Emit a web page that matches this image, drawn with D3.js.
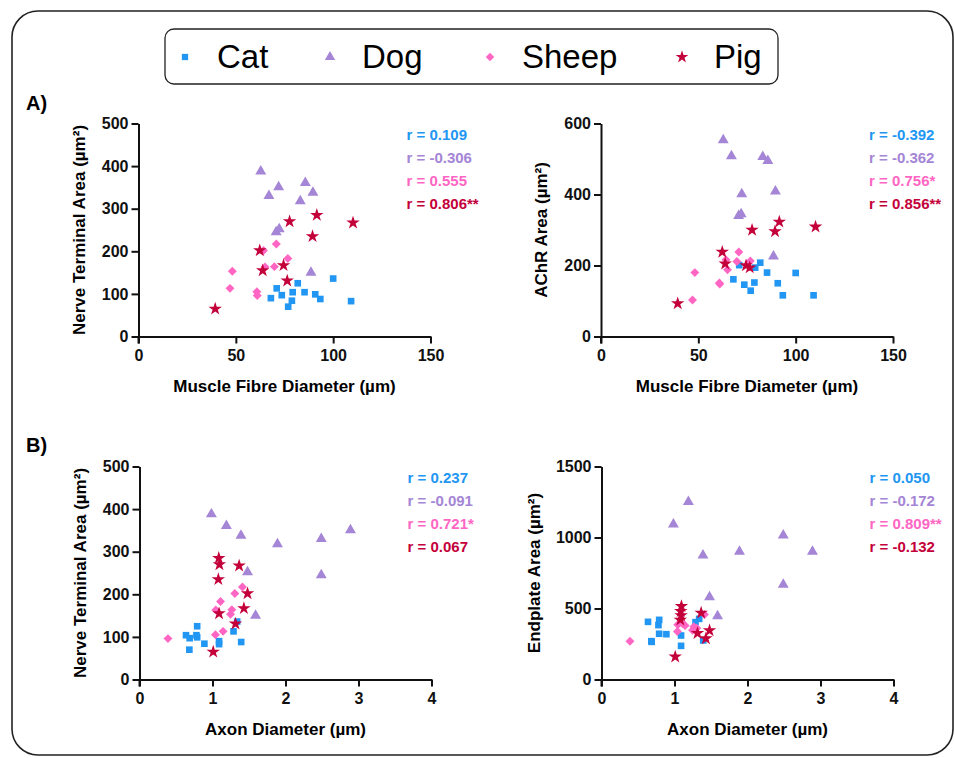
<!DOCTYPE html>
<html>
<head>
<meta charset="utf-8">
<style>
  body { margin: 0; background: #fff; }
  svg { display: block; font-family: "Liberation Sans", Arial, sans-serif; }
</style>
</head>
<body>
<svg id="chart" width="954" height="758"></svg>
<script src="https://d3js.org/d3.v7.min.js"></script>
<script>

// species and their correlation labels
var species = ["Cat", "Dog", "Sheep", "Pig"];

var catFibre    = [68, 71, 73.6, 76.9, 78.8, 79.2, 81.8, 85.3, 90.8, 93.4, 100, 109.2];
var catNTA      = [90, 113, 97, 70, 84, 104, 125, 104, 99, 88, 136, 83];
var catAChR     = [161, 201, 146, 129, 152, 194, 208, 180, 150, 116, 179, 116];
var catAxon     = [1.09, 1.288, 0.687, 0.683, 0.889, 0.637, 0.79, 0.78, 0.79, 1.393, 1.338, 1.09];
var catEndplate = [310, 404, 265, 270, 319, 406, 420, 383, 322, 275, 427, 237];

var dogFibre    = [62.8, 67, 70.7, 72, 72.3, 83.1, 85.7, 88.6, 89.6];
var dogNTA      = [388, 330, 245, 351, 252, 318, 361, 150, 338];
var dogAChR     = [553, 508, 340, 345, 401, 506, 495, 226, 409];
var dogAxon     = [0.985, 2.49, 2.49, 2.89, 1.48, 1.89, 1.19, 1.59, 1.39];
var dogEndplate = [1092, 1016, 669, 901, 580, 901, 1251, 446, 875];

var sheepFibre    = [47, 48.2, 60.8, 61, 64.2, 65, 69.8, 70.8, 76.7];
var sheepNTA      = [113, 153, 105, 96, 202, 163, 164, 217, 183];
var sheepAChR     = [103, 180, 151, 148, 216, 188, 211, 238, 213];
var sheepAxon     = [1.145, 1.247, 1.04, 0.39, 1.306, 1.045, 1.265, 1.41, 1.11];
var sheepEndplate = [380, 347, 338, 270, 361, 385, 372, 458, 394];

var pigFibre    = [39.4, 62.3, 63.8, 74.5, 76.4, 77.6, 89.4, 91.6, 110.2];
var pigNTA      = [65, 202, 155, 167, 131, 270, 235, 285, 267];
var pigAChR     = [93, 238, 205, 200, 194, 300, 296, 323, 309];
var pigAxon     = [1.01, 1.48, 1.09, 1.43, 1.315, 1.095, 1.08, 1.086, 1.365];
var pigEndplate = [160, 345, 451, 289, 326, 516, 420, 481, 469];

var rFibreNTA     = ["0.109", "-0.306", "0.555", "0.806**"];
var rFibreAChR    = ["-0.392", "-0.362", "0.756*", "0.856**"];
var rAxonNTA      = ["0.237", "-0.091", "0.721*", "0.067"];
var rAxonEndplate = ["0.050", "-0.172", "0.809**", "-0.132"];

var fibreTicks = [0, 50, 100, 150],
    axonTicks = [0, 1, 2, 3, 4],
    ntaTicks = [0, 100, 200, 300, 400, 500],
    achrTicks = [0, 200, 400, 600],
    endplateTicks = [0, 500, 1000, 1500];

var colors = ["#2196f3", "#a585d6", "#ff66c4", "#c4003a"];
var shapes = [d3.symbolSquare, d3.symbolTriangle, d3.symbolSquare, d3.symbolStar];
var sizes = [44, 52, 40, 56];
var rotations = [0, 0, 45, 0];

var svg = d3.select("#chart");

// outer frame
svg.append("rect")
    .attr("x", 12).attr("y", 11)
    .attr("width", 941).attr("height", 744)
    .attr("rx", 26)
    .attr("fill", "none")
    .attr("stroke", "#222")
    .attr("stroke-width", 1.6);

// legend
var legend = svg.append("g");
legend.append("rect")
    .attr("x", 165).attr("y", 29)
    .attr("width", 613).attr("height", 55)
    .attr("rx", 9)
    .attr("fill", "#fff")
    .attr("stroke", "#222")
    .attr("stroke-width", 1.3);

var legendX = [185, 330, 490, 682];
species.forEach(function(s, i) {
  legend.append("path")
      .attr("d", d3.symbol().type(shapes[i]).size(sizes[i] * 0.9)())
      .attr("transform", "translate(" + legendX[i] + ",57) rotate(" + rotations[i] + ")")
      .attr("fill", colors[i]);
  legend.append("text")
      .attr("x", legendX[i] + 32)
      .attr("y", 68)
      .attr("font-size", 33)
      .attr("fill", "#000")
      .text(s);
});

svg.append("text").attr("x", 26).attr("y", 110)
    .attr("font-size", 20).attr("font-weight", "bold").text("A)");
svg.append("text").attr("x", 26).attr("y", 452)
    .attr("font-size", 20).attr("font-weight", "bold").text("B)");

function panel(o) {
  var g = svg.append("g").attr("transform", "translate(" + o.left + "," + o.top + ")");
  var w = 292, h = 213;

  var x = d3.scaleLinear().domain(d3.extent(o.xTicks)).range([0, w]);
  var y = d3.scaleLinear().domain(d3.extent(o.yTicks)).range([h, 0]);

  var xAxis = g.append("g")
      .attr("transform", "translate(0," + h + ")")
      .call(d3.axisBottom(x).tickValues(o.xTicks).tickFormat(d3.format("d"))
        .tickSize(7).tickSizeOuter(0).tickPadding(6));
  var yAxis = g.append("g")
      .call(d3.axisLeft(y).tickValues(o.yTicks).tickFormat(d3.format("d"))
        .tickSize(7).tickSizeOuter(0).tickPadding(3));

  [xAxis, yAxis].forEach(function(a) {
    a.selectAll(".domain").attr("stroke", "#111").attr("stroke-width", 2);
    a.selectAll(".tick line").attr("stroke", "#111").attr("stroke-width", 2);
    a.selectAll(".tick text")
        .attr("font-family", "Liberation Sans, Arial, sans-serif")
        .attr("font-size", 16)
        .attr("font-weight", "bold")
        .attr("fill", "#111");
  });
  // y axis sticks out below the origin like a cross
  g.append("line")
      .attr("x1", 0).attr("x2", 0)
      .attr("y1", h).attr("y2", h + 7)
      .attr("stroke", "#111").attr("stroke-width", 2);

  g.append("text")
      .attr("x", w / 2)
      .attr("y", h + 55)
      .attr("text-anchor", "middle")
      .attr("font-size", 17)
      .attr("font-weight", "bold")
      .text(o.xLabel);

  g.append("text")
      .attr("transform", "translate(" + o.yLabelX + "," + (h / 2) + ") rotate(-90)")
      .attr("text-anchor", "middle")
      .attr("font-size", 17)
      .attr("font-weight", "bold")
      .text(o.yLabel);

  o.series.forEach(function(s, i) {
    var pts = s.x.map(function(v, j) { return [v, s.y[j]]; });
    g.append("g").selectAll("path")
        .data(pts)
      .enter().append("path")
        .attr("d", d3.symbol().type(shapes[i]).size(sizes[i]))
        .attr("transform", function(d) {
          return "translate(" + x(d[0]) + "," + y(d[1]) + ") rotate(" + rotations[i] + ")";
        })
        .attr("fill", colors[i]);
  });

  o.r.forEach(function(r, i) {
    g.append("text")
        .attr("x", w - 24)
        .attr("y", 16 + i * 23.3)
        .attr("font-size", 15)
        .attr("font-weight", "bold")
        .attr("fill", colors[i])
        .text("r = " + r);
  });
}

panel({
  left: 138.5, top: 123.5, xTicks: fibreTicks, yTicks: ntaTicks,
  xLabel: "Muscle Fibre Diameter (\u00b5m)", yLabel: "Nerve Terminal Area (\u00b5m\u00b2)", yLabelX: -54,
  series: [{x: catFibre, y: catNTA}, {x: dogFibre, y: dogNTA}, {x: sheepFibre, y: sheepNTA}, {x: pigFibre, y: pigNTA}],
  r: rFibreNTA
});
panel({
  left: 601, top: 123.5, xTicks: fibreTicks, yTicks: achrTicks,
  xLabel: "Muscle Fibre Diameter (\u00b5m)", yLabel: "AChR Area (\u00b5m\u00b2)", yLabelX: -54,
  series: [{x: catFibre, y: catAChR}, {x: dogFibre, y: dogAChR}, {x: sheepFibre, y: sheepAChR}, {x: pigFibre, y: pigAChR}],
  r: rFibreAChR
});
panel({
  left: 139.5, top: 466.5, xTicks: axonTicks, yTicks: ntaTicks,
  xLabel: "Axon Diameter (\u00b5m)", yLabel: "Nerve Terminal Area (\u00b5m\u00b2)", yLabelX: -54,
  series: [{x: catAxon, y: catNTA}, {x: dogAxon, y: dogNTA}, {x: sheepAxon, y: sheepNTA}, {x: pigAxon, y: pigNTA}],
  r: rAxonNTA
});
panel({
  left: 601.5, top: 466.5, xTicks: axonTicks, yTicks: endplateTicks,
  xLabel: "Axon Diameter (\u00b5m)", yLabel: "Endplate Area (\u00b5m\u00b2)", yLabelX: -62,
  series: [{x: catAxon, y: catEndplate}, {x: dogAxon, y: dogEndplate}, {x: sheepAxon, y: sheepEndplate}, {x: pigAxon, y: pigEndplate}],
  r: rAxonEndplate
});

</script>
</body>
</html>
